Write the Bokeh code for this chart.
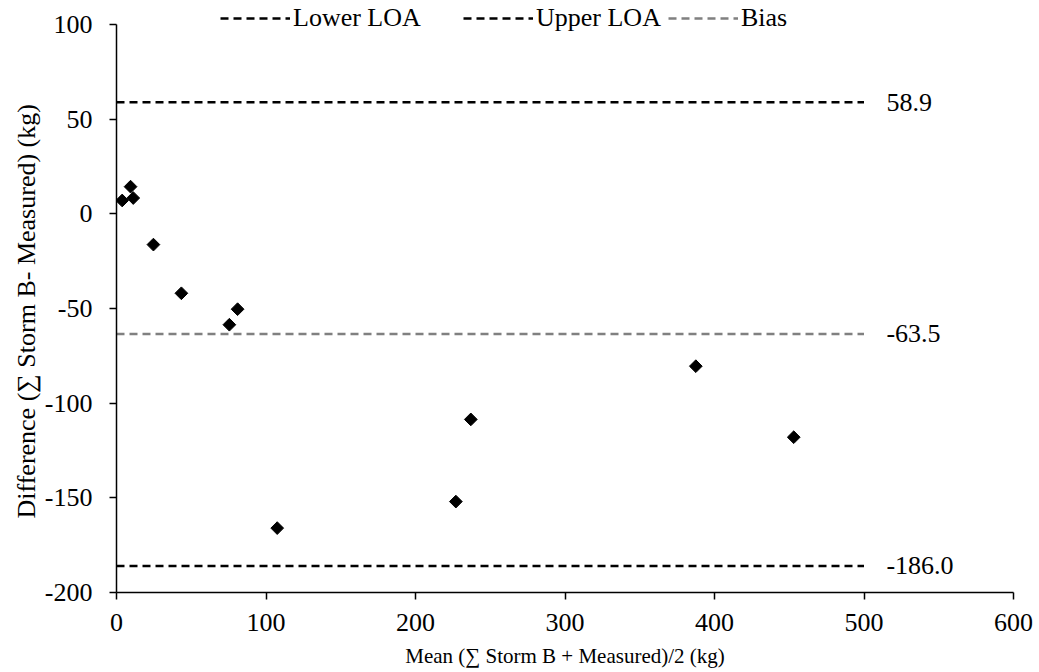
import numpy as np
from bokeh.plotting import figure
from bokeh.models import Range1d, Legend, LegendItem, FixedTicker, Title
from bokeh.core.properties import value
from bokeh.embed import file_html
from bokeh.resources import INLINE

# ---- data ----
mean_kg = [3.8, 9.4, 11.2, 24.7, 43.4, 75.5, 81.0, 107.5, 227, 237, 387.5, 453]
diff_kg = [7.0, 14.3, 8.3, -16.3, -42.0, -58.6, -50.4, -166, -152, -108.6, -80.5, -118]
lower_loa = -186.0
upper_loa = 58.9
bias = -63.5
line_x = [0, 500]
x_ticks = [0, 100, 200, 300, 400, 500, 600]
y_ticks = [-200, -150, -100, -50, 0, 50, 100]
x_title = "Mean (\u2211 Storm B + Measured)/2 (kg)"
y_title = "Difference (\u2211 Storm B- Measured) (kg)"

FONT = "Liberation Serif"
FS = "26px"

# frame extends to the top of the page so the legend (above the y=100 line) is not clipped
p = figure(width=1039, height=672, output_backend="svg", toolbar_location=None,
           x_range=Range1d(0, 600), y_range=Range1d(-200, 112.6))
p.frame_width = 897
p.frame_height = 592
p.min_border_left = 116
p.min_border_right = 26
p.min_border_top = 0
p.min_border_bottom = 80
p.outline_line_color = None
p.xgrid.visible = False
p.ygrid.visible = False
p.background_fill_color = "white"
p.border_fill_color = "white"

for ax in (p.xaxis[0], p.yaxis[0]):
    ax.axis_line_color = "black"
    ax.axis_line_width = 1.5
    ax.major_tick_line_color = "black"
    ax.major_tick_line_width = 1.5
    ax.major_tick_in = 0
    ax.major_tick_out = 7
    ax.minor_tick_line_color = None
    ax.major_label_text_font = FONT
    ax.major_label_text_font_size = FS
    ax.major_label_text_color = "black"

p.xaxis.ticker = FixedTicker(ticks=x_ticks)
p.yaxis.ticker = FixedTicker(ticks=y_ticks)
p.xaxis.major_label_overrides = {t: str(t) for t in x_ticks}
p.yaxis.major_label_overrides = {t: str(t) for t in y_ticks}
p.yaxis.bounds = (y_ticks[0], y_ticks[-1])
p.xaxis.major_label_standoff = 14
p.yaxis.major_label_standoff = 17

p.xaxis.axis_label = x_title
p.xaxis.axis_label_text_font = FONT
p.xaxis.axis_label_text_font_size = "21px"
p.xaxis.axis_label_text_font_style = "normal"
p.xaxis.axis_label_text_color = "black"
p.xaxis.axis_label_standoff = 10

# y title as a Title so it can be centred on the plotted y span rather than the frame
yt = Title(text=y_title, align="left", offset=74, standoff=2,
           text_font=FONT, text_font_size=FS, text_font_style="normal", text_color="black")
p.add_layout(yt, "left")

dash = "8 5"
r_low = p.line(line_x, [lower_loa, lower_loa], line_color="black", line_width=2.5, line_dash=dash)
r_up = p.line(line_x, [upper_loa, upper_loa], line_color="black", line_width=2.5, line_dash=dash)
r_bias = p.line(line_x, [bias, bias], line_color="#808080", line_width=2.5, line_dash=dash)

p.scatter(mean_kg, diff_kg, marker="square", angle=np.pi / 4, size=9,
          fill_color="black", line_color="black")

loa_vals = [upper_loa, bias, lower_loa]
p.text(x=[515] * 3, y=loa_vals, text=[f"{v:.1f}" for v in loa_vals],
       text_font=value(FONT), text_font_size=FS, text_color="black",
       text_align="left", text_baseline="middle")

items = [("Lower LOA", r_low, 104), ("Upper LOA", r_up, 347), ("Bias", r_bias, 552)]
for label, r, xloc in items:
    lg = Legend(items=[LegendItem(label=label, renderers=[r])],
                location=(xloc, 559), orientation="horizontal",
                glyph_width=70, glyph_height=20, label_standoff=3,
                padding=0, margin=0, spacing=0,
                label_text_font=FONT, label_text_font_size=FS, label_text_color="black",
                border_line_alpha=0, background_fill_alpha=0)
    p.add_layout(lg, "center")

open("out.html", "w").write(file_html(p, INLINE))
